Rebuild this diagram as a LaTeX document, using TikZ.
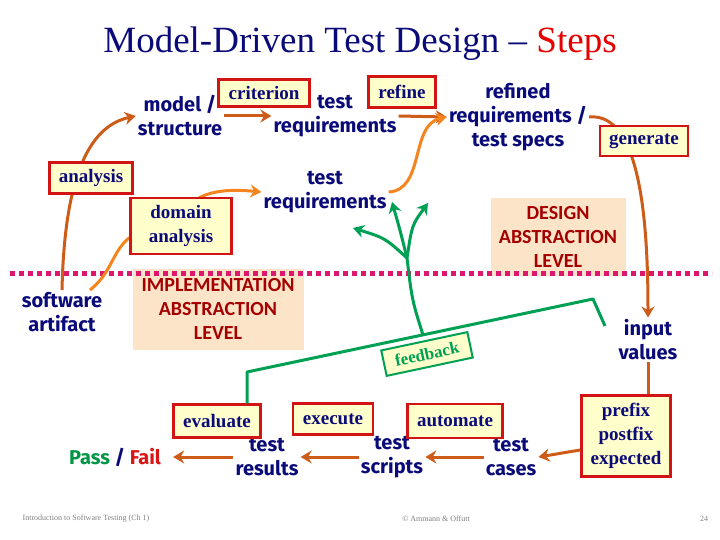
\documentclass[tikz,border=0pt]{standalone}
\usepackage{fontspec}
\setmainfont{Liberation Serif}
\newfontfamily\handfont{Fira Sans}
\newfontfamily\levelfont{Carlito}
\usepackage{tikz}
\usetikzlibrary{arrows,arrows.meta,shapes,positioning}
\usepackage{xcolor}
\definecolor{mdnavy}{RGB}{10,10,120}
\definecolor{mdtitle}{RGB}{230,0,0}
\definecolor{mdred}{RGB}{210,20,20}
\definecolor{mdcream}{RGB}{255,255,204}
\definecolor{mdbrown}{RGB}{204,92,24}
\definecolor{mdorange}{RGB}{246,132,30}
\definecolor{mdgreen}{RGB}{0,160,84}
\definecolor{mdpink}{RGB}{222,22,110}
\definecolor{mdpeach}{RGB}{252,228,200}
\definecolor{mddarkred}{RGB}{165,0,0}
\definecolor{mdpass}{RGB}{0,150,70}
\definecolor{mdfail}{RGB}{220,20,20}
\tikzstyle{arrow} = [line width=3pt,->,>={Stealth[length=11pt,width=13pt]},color=mdbrown]
\tikzstyle{lightarrow} = [arrow,color=mdorange]
\tikzstyle{growth} = [arrow,color=mdgreen]
\tikzstyle{stepbox} = [rectangle, draw=mdred, fill=mdcream, line width=2.5pt, inner sep=3pt, text=mdnavy, font=\fontsize{19}{24}\selectfont\bfseries, align=center, minimum height=31pt]
\tikzstyle{feedbox} = [stepbox, draw=mdgreen, text=mdgreen, line width=2pt, minimum height=26pt]
\tikzstyle{artifact} = [text=mdnavy, font=\handfont\fontsize{20}{24}\selectfont\bfseries, align=center, inner sep=2pt]
\tikzstyle{level} = [rectangle, fill=mdpeach, text=mddarkred, font=\levelfont\fontsize{20}{24}\selectfont\bfseries, align=center]
\tikzstyle{footer} = [text=gray, font=\fontsize{8}{10}\selectfont]

\begin{document}
\begin{tikzpicture}[x=1pt, y=-1pt]
\useasboundingbox (0,0) rectangle (720,540);

% Title and footer
\node (title) [text=mdnavy, font=\fontsize{37}{42}\selectfont] at (360,44) {Model-Driven Test Design -- \textcolor{mdtitle}{Steps}};
\node (course) [footer] at (86,519) {Introduction to Software Testing (Ch 1)};
\node (authors) [footer] at (436,519) {© Ammann \& Offutt};
\node (page) [footer] at (704,519) {24};

% Abstraction levels
\node (impl) [level, minimum width=171pt, minimum height=81pt] at (218,309) {IMPLEMENTATION\\ABSTRACTION\\LEVEL};
\node (design) [level, minimum width=135pt, minimum height=78pt] at (558,237) {DESIGN\\ABSTRACTION\\LEVEL};
\coordinate (divl) at (10,273);
\coordinate (divr) at (712,273);
\draw[mdpink, line width=5pt, dash pattern=on 5pt off 4pt] (divl) -- (divr);

% Artifacts
\node (model) [artifact] at (180,116) {model /\\structure};
\node (treqtop) [artifact] at (335,116) {test\\requirements};
\node (refined) [artifact] at (518,117) {refined\\requirements /\\test specs};
\node (treqlow) [artifact] at (325,192) {test\\requirements};
\node (swart) [artifact] at (62,312) {software\\artifact};
\node (input) [artifact] at (648,340) {input\\values};
\node (tcases) [artifact] at (511,457) {test\\cases};
\node (tscripts) [artifact, left of=tcases, node distance=119pt] {test\\scripts};
\node (tresults) [artifact, left of=tscripts, node distance=125pt] {test\\results};
\node (passfail) [artifact, left of=tresults, node distance=152pt] {\textcolor{mdpass}{Pass} / \textcolor{mdfail}{Fail}};

% Steps
\node (prefix) [stepbox, minimum width=89pt, minimum height=81pt] at (626,436) {prefix\\postfix\\expected};
\node (criterion) [stepbox, minimum width=91pt, minimum height=27pt] at (264,93) {criterion};
\node (refine) [stepbox, minimum width=67pt] at (402,92) {refine};
\node (evaluate) [stepbox, minimum width=87pt, minimum height=33pt] at (217,421) {evaluate};
\node (execute) [stepbox, minimum width=80pt] at (333,419) {execute};
\node (automate) [stepbox, minimum width=95pt, minimum height=34pt] at (455,421) {automate};

% Design flow
\coordinate (dmid) at (181,226);
\draw[arrow] (swart.north) .. controls (64,200) and (80,128) .. (model.west);
\draw[lightarrow] ([xshift=28pt]swart.north) .. controls (125,262) and (105,226) .. (dmid) .. controls (185,192) and (220,188) .. (treqlow.west);
\draw[arrow] (model.east) -- (treqtop.west);
\draw[arrow] (treqtop.east) -- (refined.west);
\draw[lightarrow] (treqlow.east) .. controls (425,190) and (410,125) .. (refined.west);
\draw[arrow] (refined.east) .. controls (640,112) and (648,220) .. (input.north);
\draw[arrow, -] (input.south) -- (prefix.north -| input.south);
\draw[arrow] ([yshift=-14pt]prefix.west) -- (tcases.east);
\draw[arrow] (tcases.west) -- (tscripts.east);
\draw[arrow] (tscripts.west) -- (tresults.east);
\draw[arrow, shorten >=10pt] (tresults.west) -- (passfail.east);

% Feedback
\coordinate (fstart) at (247,372);
\coordinate (fbend) at (593,299);
\coordinate (fend) at (605,326);
\coordinate (root) at (423,335);
\coordinate (fork) at (407,258);
\coordinate (tipleft) at (353,228);
\coordinate (tipmid) at (392,202);
\coordinate (tipright) at (428,203);
\draw[mdgreen, line width=3pt, line join=round] (evaluate.north -| fstart) -- (fstart) -- (fbend) -- (fend);
\draw[mdgreen, line width=3pt] (root) .. controls (412,300) .. (fork);
\draw[growth] (fork) .. controls (385,238) .. (tipleft);
\draw[growth] (fork) .. controls (400,230) .. (tipmid);
\draw[growth] (fork) .. controls (412,225) .. (tipright);
\node (feedback) [feedbox, rotate=12, minimum width=88pt, font=\fontsize{17}{20}\selectfont\bfseries] at (427,354) {feedback};

% Boxes on the curves
\node (analysis) [stepbox, minimum width=83pt] at (91,178) {analysis};
\node (domain) [stepbox, minimum width=101pt, minimum height=56pt] at (dmid) {domain\\analysis};
\node (generate) [stepbox, minimum width=88pt, minimum height=30pt] at (644,141) {generate};
\end{tikzpicture}
\end{document}
